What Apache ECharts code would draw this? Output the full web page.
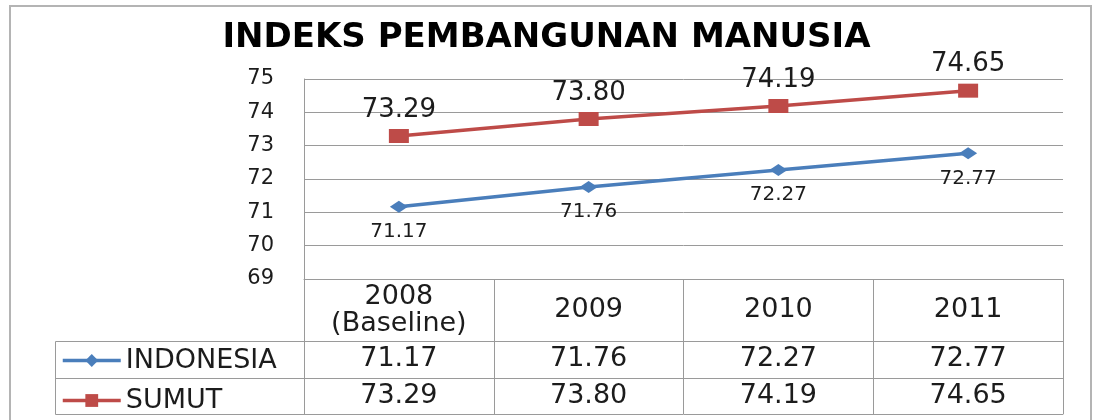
<!DOCTYPE html>
<html>
<head>
<meta charset="utf-8">
<title>Indeks Pembangunan Manusia</title>
<script src="https://cdn.jsdelivr.net/npm/echarts@6/dist/echarts.min.js"></script>
<style>
  html, body { margin: 0; padding: 0; background: #fff; }
  #chart { width: 1093px; height: 420px; }
</style>
</head>
<body>
<div id="chart"></div>
<script>
const years = ['2008\n(Baseline)', '2009', '2010', '2011']
const indonesia = [71.17, 71.76, 72.27, 72.77]
const sumut = [73.29, 73.80, 74.19, 74.65]
const yMin = 69
const yMax = 75

const font = 'DejaVu Sans'
const textColor = '#1c1c1c'
const gridColor = '#9a9a9a'

// the data table under the plot is built from extra x axes, one per row
const tableRow = (values, offset) => ({
  type: 'category',
  data: years,
  position: 'bottom',
  offset: offset,
  axisLine: { show: true, lineStyle: { color: gridColor } },
  axisTick: { show: false },
  axisLabel: {
    show: values !== null,
    interval: 0,
    margin: 18,
    verticalAlign: 'middle',
    fontFamily: font,
    fontSize: 27,
    color: textColor,
    formatter: (v, i) => values ? values[i].toFixed(2) : ''
  }
})

const chart = echarts.init(document.getElementById('chart'))
chart.setOption({
  animation: false,
  title: {
    text: 'INDEKS PEMBANGUNAN MANUSIA',
    left: 'center',
    top: 21,
    padding: 0,
    textStyle: { fontFamily: font, fontWeight: 'bold', fontSize: 34, color: '#000' }
  },
  legend: {
    orient: 'vertical',
    left: 61,
    top: 347,
    padding: 0,
    itemWidth: 58,
    itemHeight: 16,
    itemGap: 13,
    lineStyle: { width: 3.5 },
    textStyle: { fontFamily: font, fontSize: 27, lineHeight: 24, color: textColor },
    data: ['INDONESIA', 'SUMUT']
  },
  grid: { left: 304, right: 30, top: 79, bottom: 141 },
  xAxis: [
    {
      type: 'category',
      data: years,
      boundaryGap: true,
      axisLine: { show: true, lineStyle: { color: gridColor } },
      axisTick: { show: true, interval: 0, length: 135, lineStyle: { color: gridColor } },
      axisLabel: {
        interval: 0,
        margin: 31,
        verticalAlign: 'middle',
        fontFamily: font,
        fontSize: 27,
        lineHeight: 27,
        color: textColor
      }
    },
    tableRow(indonesia, 62),
    tableRow(sumut, 99),
    tableRow(null, 135)
  ],
  yAxis: {
    type: 'value',
    min: yMin,
    max: yMax,
    interval: 1,
    axisLine: { show: true, lineStyle: { color: gridColor } },
    axisTick: { show: false },
    splitLine: { lineStyle: { color: gridColor } },
    axisLabel: { margin: 30, fontFamily: font, fontSize: 21, color: textColor }
  },
  graphic: [
    {
      type: 'rect',
      shape: { x: 10, y: 6, width: 1081, height: 430 },
      style: { fill: 'none', stroke: '#b4b4b4', lineWidth: 2 },
      silent: true
    },
    {
      type: 'rect',
      shape: { x: 55.5, y: 341.5, width: 249, height: 73 },
      style: { fill: 'none', stroke: gridColor, lineWidth: 1 },
      silent: true
    },
    {
      type: 'line',
      shape: { x1: 55.5, y1: 378.5, x2: 304.5, y2: 378.5 },
      style: { stroke: gridColor, lineWidth: 1 },
      silent: true
    }
  ],
  series: [
    {
      name: 'INDONESIA',
      type: 'line',
      data: indonesia,
      color: '#4a7ebb',
      symbol: 'diamond',
      symbolSize: [18, 12],
      lineStyle: { width: 3.5 },
      label: {
        show: true,
        position: 'bottom',
        distance: 9,
        fontFamily: font,
        fontSize: 20,
        color: textColor,
        formatter: p => p.value.toFixed(2)
      }
    },
    {
      name: 'SUMUT',
      type: 'line',
      data: sumut,
      color: '#be4b48',
      symbol: 'rect',
      symbolSize: [20, 14],
      lineStyle: { width: 3.5 },
      label: {
        show: true,
        position: 'top',
        distance: 6,
        fontFamily: font,
        fontSize: 26,
        color: textColor,
        formatter: p => p.value.toFixed(2)
      }
    }
  ]
})
window.addEventListener('resize', () => chart.resize())
</script>
</body>
</html>
